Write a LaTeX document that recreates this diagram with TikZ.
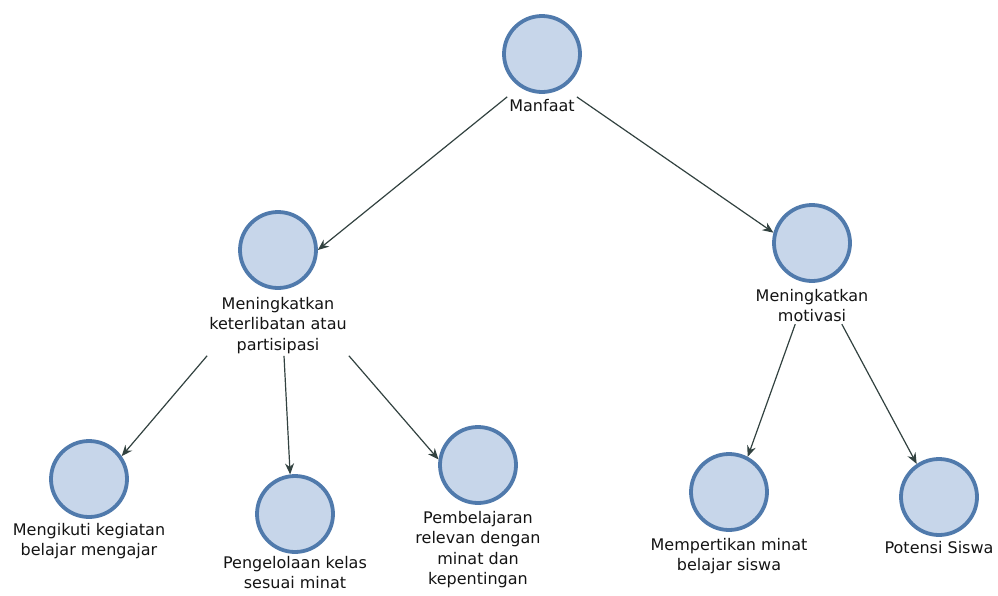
\documentclass[tikz,border=0pt]{standalone}
\usepackage{fontspec}
\setmainfont{DejaVu Sans}
\usetikzlibrary{positioning,arrows.meta}
\definecolor{ringblue}{RGB}{80,122,172}
\definecolor{fillblue}{RGB}{199,214,234}
\definecolor{linkgrey}{RGB}{50,66,64}
\definecolor{textgrey}{RGB}{20,20,20}

\begin{document}
\begin{tikzpicture}[x=1pt,y=1pt,
    dot/.style={circle,draw=ringblue,fill=fillblue,line width=3.8pt,minimum size=76pt,inner sep=0pt},
    lbl/.style={align=center,inner sep=2pt,text=textgrey,font=\fontsize{16}{20.5}\selectfont},
    link/.style={draw=linkgrey,line width=1.2pt,-{Stealth[length=11pt,width=9pt]}}]
    \useasboundingbox (0,0) rectangle (998,-595);
    % root
    \node[dot] (mf) at (542,-54) {};
    \node[lbl,below=3pt of mf] (mft) {Manfaat};
    % second level
    \node[dot] (lm) at (278,-250) {};
    \node[lbl,below=5pt of lm] (lmt) {Meningkatkan\\keterlibatan atau\\partisipasi};
    \node[dot] (rm) at (812,-243) {};
    \node[lbl,below=4pt of rm] (rmt) {Meningkatkan\\motivasi};
    % leaves
    \node[dot] (bl) at (89,-479) {};
    \node[lbl,below=2pt of bl] (blt) {Mengikuti kegiatan\\belajar mengajar};
    \node[dot] (bm) at (295,-514) {};
    \node[lbl,below=1pt of bm,inner sep=1pt] (bmt) {Pengelolaan kelas\\sesuai minat};
    \node[dot] (pb) at (478,-465) {};
    \node[lbl,below=4pt of pb] (pbt) {Pembelajaran\\relevan dengan\\minat dan\\kepentingan};
    \node[dot] (mm) at (729,-492) {};
    \node[lbl,below=4pt of mm] (mmt) {Mempertikan minat\\belajar siswa};
    \node[dot] (ps) at (939,-497) {};
    \node[lbl,below=2pt of ps] (pst) {Potensi Siswa};
    % links
    \draw[link] (mft.north west) -- (lm.east);
    \draw[link] (mft.north east) -- (rm.165);
    \draw[link] (lmt.south west) -- (bl.35);
    \draw[link] ([xshift=6pt]lmt.south) -- (bm.97);
    \draw[link] (lmt.south east) -- (pb.172);
    \draw[link] (rmt.-132) -- (mm.62);
    \draw[link] (rmt.-32) -- (ps.124);
\end{tikzpicture}
\end{document}
